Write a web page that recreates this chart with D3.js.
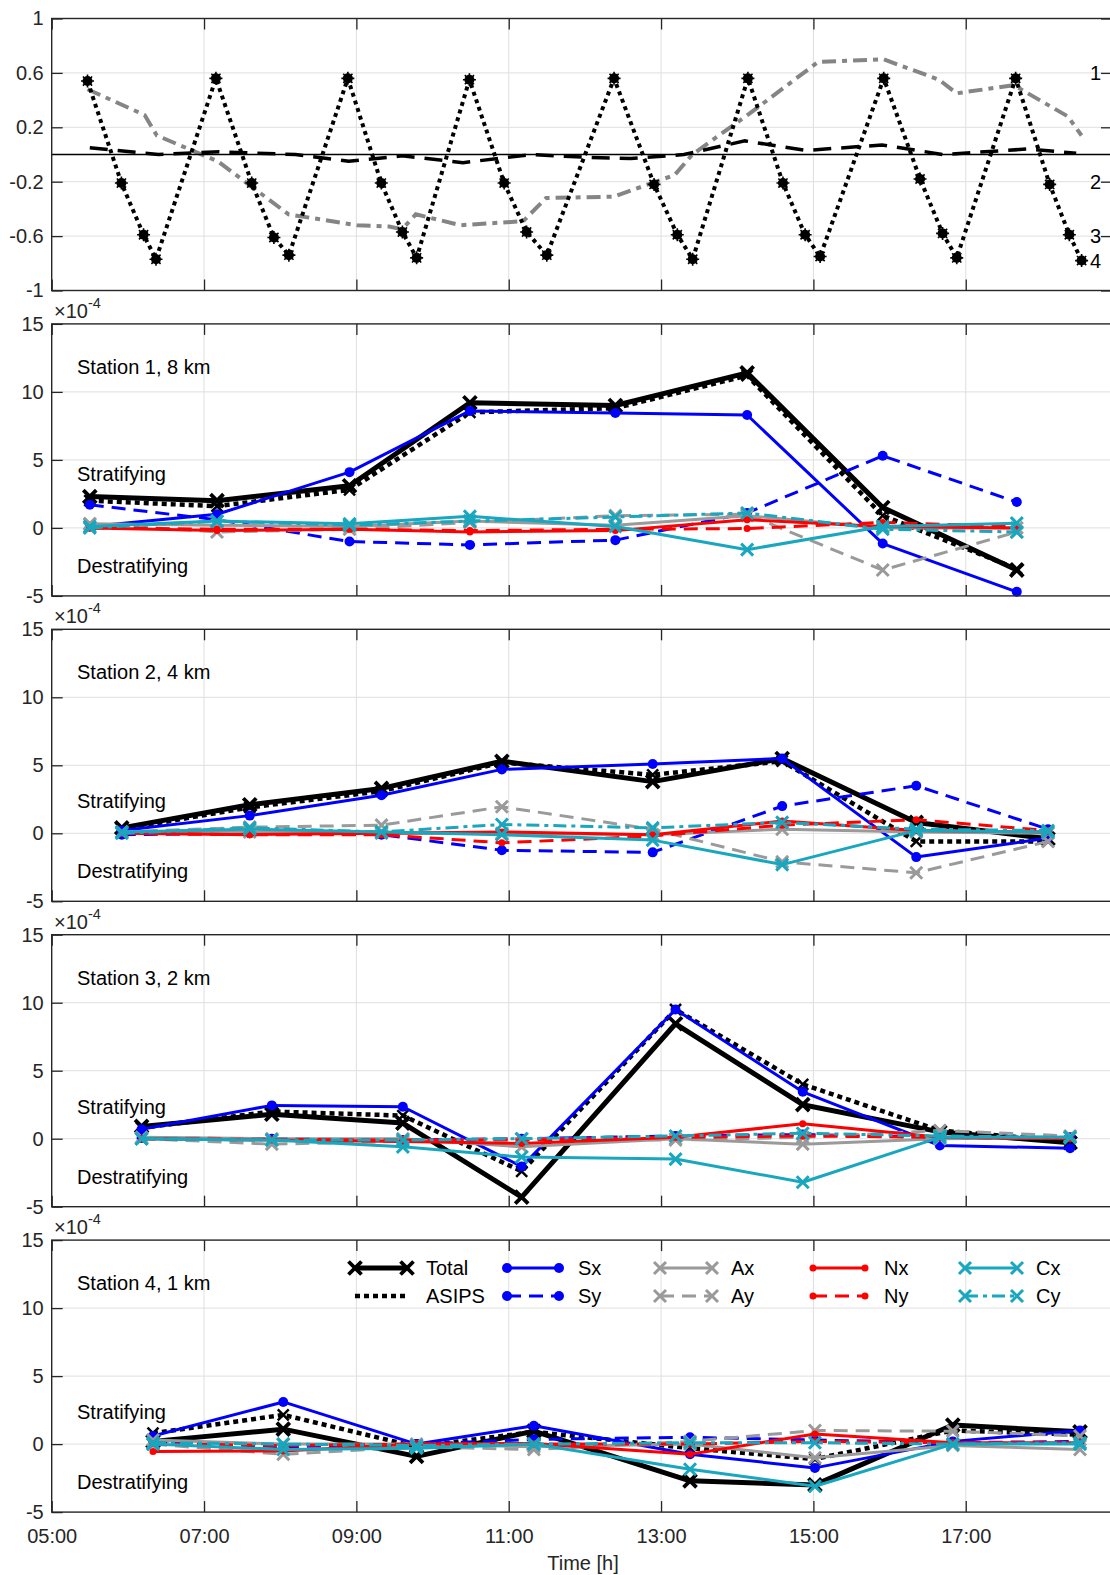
<!DOCTYPE html>
<html>
<head>
<meta charset="utf-8">
<script src="https://cdn.jsdelivr.net/npm/d3@7"></script>
<style>
  body { margin: 0; background: #fff; }
  svg { display: block; font-family: Arial, "Liberation Sans", sans-serif; }
</style>
</head>
<body>
<svg id="chart" width="1110" height="1575"></svg>
<script>
// ---- data ----
var hourTicks = [5, 7, 9, 11, 13, 15, 17];
var topTicks = [1, 0.6, 0.2, -0.2, -0.6, -1];
var panelTicks = [15, 10, 5, 0, -5];

// top panel: tidal phase at the four stations (dotted, star markers)
var tideTime = [5.47, 5.915, 6.206, 6.369, 7.156, 7.626, 7.917, 8.114, 8.888, 9.327, 9.604, 9.791,
    10.484, 10.94, 11.235, 11.5, 12.383, 12.908, 13.213, 13.415, 14.14, 14.6, 14.891, 15.088,
    15.923, 16.4, 16.696, 16.882, 17.655, 18.102, 18.36, 18.521];
var tideLevel = [0.54, -0.21, -0.59, -0.77, 0.56, -0.21, -0.61, -0.74, 0.56, -0.21, -0.57, -0.76,
    0.55, -0.21, -0.57, -0.74, 0.56, -0.22, -0.59, -0.77, 0.56, -0.21, -0.59, -0.75,
    0.56, -0.18, -0.58, -0.76, 0.56, -0.22, -0.59, -0.78];
var stationTags = ["1", "2", "3", "4"];
var stationTagLevel = [0.6, -0.2, -0.6, -0.78];

// top panel: gray dash-dot curve
var dashDotTime = [5.47, 6.22, 6.38, 7.18, 8.11, 9.01, 9.43, 9.6, 9.78, 10.37, 11.19, 11.49, 12.38,
    13.18, 13.41, 14.16, 15.06, 15.92, 16.65, 16.88, 17.63, 18.34, 18.52];
var dashDotValue = [0.48, 0.29, 0.14, -0.05, -0.44, -0.52, -0.53, -0.55, -0.44, -0.52, -0.49, -0.32, -0.31,
    -0.15, 0.0, 0.3, 0.68, 0.7, 0.55, 0.45, 0.51, 0.28, 0.14];

// top panel: black dashed curve
var dashedTime = [5.5, 6.4, 7.2, 8.2, 8.9, 9.6, 10.4, 11.3, 12.0, 12.6, 13.3, 14.1, 14.9, 15.9, 16.7, 17.8, 18.45];
var dashedValue = [0.05, 0.0, 0.02, 0.0, -0.05, -0.01, -0.06, 0.0, -0.02, -0.03, 0.0, 0.1, 0.03, 0.07, 0.0, 0.04, 0.01];

var seriesNames = ["Total", "ASIPS", "Sx", "Sy", "Ax", "Ay", "Nx", "Ny", "Cx", "Cy"];
var stationLabels = ["Station 1, 8 km", "Station 2, 4 km", "Station 3, 2 km", "Station 4, 1 km"];

var station1Time = [5.50, 7.17, 8.91, 10.49, 12.40, 14.13, 15.91, 17.67];
var station2Time = [5.92, 7.60, 9.33, 10.91, 12.89, 14.59, 16.35, 18.08];
var station3Time = [6.18, 7.89, 9.61, 11.17, 13.19, 14.86, 16.66, 18.37];
var station4Time = [6.33, 8.04, 9.79, 11.33, 13.38, 15.02, 16.83, 18.50];

// rows follow seriesNames, values in units of 1e-4
var station1 = [
    [2.3, 2.0, 3.1, 9.2, 9.0, 11.4, 1.5, -3.1],
    [2.0, 1.6, 2.8, 8.5, 8.8, 11.2, 0.9, -3.0],
    [0.1, 1.0, 4.1, 8.6, 8.45, 8.3, -1.15, -4.7],
    [1.7, 0.6, -1.0, -1.25, -0.9, 1.1, 5.3, 1.9],
    [0.3, 0.2, 0.1, 0.5, 0.2, 0.9, 0.0, 0.0],
    [0.3, -0.3, -0.1, 0.4, 0.9, 1.0, -3.1, -0.3],
    [0.0, -0.2, -0.1, -0.3, -0.2, 0.6, 0.1, 0.0],
    [0.0, -0.1, -0.1, -0.2, -0.1, -0.05, 0.4, 0.1],
    [0.1, 0.5, 0.3, 0.85, 0.1, -1.6, 0.1, 0.35],
    [0.0, 0.5, 0.2, 0.5, 0.8, 1.1, -0.1, -0.3]
];
var station2 = [
    [0.4, 2.1, 3.3, 5.3, 3.8, 5.5, 0.8, -0.4],
    [0.3, 1.9, 3.1, 5.2, 4.3, 5.3, -0.6, -0.6],
    [0.2, 1.3, 2.8, 4.7, 5.1, 5.5, -1.75, -0.35],
    [-0.1, 0.0, -0.1, -1.25, -1.4, 2.0, 3.5, 0.3],
    [0.1, 0.1, 0.0, 0.0, -0.1, 0.3, 0.1, 0.0],
    [0.1, 0.45, 0.6, 1.95, 0.3, -2.1, -2.9, -0.6],
    [0.0, -0.1, 0.0, 0.1, -0.1, 0.9, 0.2, 0.1],
    [0.0, -0.1, -0.1, -0.7, -0.2, 0.6, 1.0, 0.2],
    [0.1, 0.3, 0.1, -0.1, -0.5, -2.3, 0.2, 0.1],
    [0.0, 0.4, 0.1, 0.65, 0.4, 0.8, 0.3, 0.2]
];
var station3 = [
    [0.9, 1.8, 1.15, -4.3, 8.45, 2.5, 0.5, -0.3],
    [0.8, 2.0, 1.7, -2.4, 9.5, 4.0, 0.6, -0.2],
    [0.7, 2.45, 2.35, -2.05, 9.5, 3.45, -0.5, -0.7],
    [0.05, 0.0, -0.1, 0.0, 0.2, 0.3, 0.1, 0.1],
    [0.1, 0.0, 0.0, -0.6, 0.0, -0.4, 0.0, 0.1],
    [0.0, -0.4, -0.2, 0.0, -0.1, 0.1, 0.6, 0.2],
    [0.0, -0.1, -0.2, -0.35, 0.1, 1.1, 0.1, 0.0],
    [0.0, -0.05, -0.1, -0.1, 0.1, 0.2, 0.1, 0.0],
    [0.0, -0.1, -0.6, -1.35, -1.5, -3.2, 0.1, 0.1],
    [0.0, -0.1, -0.1, 0.0, 0.2, 0.4, 0.2, 0.1]
];
var station4 = [
    [0.2, 1.1, -0.9, 0.95, -2.7, -3.0, 1.4, 0.9],
    [0.8, 2.15, -0.2, 0.9, -0.3, -1.1, 1.0, 0.7],
    [0.6, 3.1, 0.0, 1.35, -0.75, -1.75, 0.2, 1.0],
    [0.2, -0.2, 0.0, 0.35, 0.5, 0.3, 0.1, 0.2],
    [0.3, 0.0, 0.0, -0.2, 0.0, -1.0, -0.1, -0.4],
    [0.0, -0.75, -0.2, -0.4, 0.2, 1.0, 0.95, 0.6],
    [-0.55, -0.5, 0.0, 0.05, -0.75, 0.75, 0.1, 0.1],
    [0.0, -0.1, 0.0, 0.0, 0.0, 0.2, 0.1, 0.1],
    [0.0, -0.4, -0.3, 0.0, -1.85, -3.1, 0.0, 0.0],
    [0.1, 0.0, -0.1, 0.0, 0.1, 0.1, 0.0, 0.1]
];

// ---- layout / style ----
var left = 51.7, right = 1112;
var panelTop = [18.5, 323.9, 629.3, 934.7, 1240.1];
var panelH = 272;
var axisColor = "#262626", gridColor = "#dfdfdf";
var cyan = "#18a7be", gray = "#9a9a9a";
var tickFont = 20, textFont = 20;

var styles = {
    Total: {color: "#000", w: 5, dash: null, marker: "x", ms: 6.5, mw: 3.8},
    ASIPS: {color: "#000", w: 4.5, dash: "5,4", marker: "x", ms: 5.5, mw: 2.5},
    Sx: {color: "#0000ff", w: 3, dash: null, marker: "o", ms: 5},
    Sy: {color: "#0000ff", w: 3, dash: "14,8", marker: "o", ms: 5},
    Ax: {color: gray, w: 3, dash: null, marker: "x", ms: 6, mw: 3},
    Ay: {color: gray, w: 3, dash: "14,8", marker: "x", ms: 6, mw: 3},
    Nx: {color: "#ff0000", w: 3, dash: null, marker: "o", ms: 3.5},
    Ny: {color: "#ff0000", w: 3, dash: "14,8", marker: "o", ms: 3.5},
    Cx: {color: cyan, w: 3, dash: null, marker: "x", ms: 6, mw: 3},
    Cy: {color: cyan, w: 3, dash: "13,5,4,5", marker: "x", ms: 6, mw: 3}
};

var x = d3.scaleLinear().domain([5, 18.92]).range([left, right]);
var svg = d3.select("#chart");

function hourLabel(h) {
    return d3.format("02d")(h) + ":00";
}

function drawGrid(g, y, yTicks) {
    g.append("g").selectAll("line")
            .data(hourTicks.slice(1))
            .join("line")
            .attr("x1", function (d) { return x(d); })
            .attr("x2", function (d) { return x(d); })
            .attr("y1", 0).attr("y2", panelH)
            .attr("stroke", gridColor).attr("stroke-width", 1);
    g.append("g").selectAll("line")
            .data(yTicks.slice(1, -1))
            .join("line")
            .attr("x1", left).attr("x2", right)
            .attr("y1", function (d) { return y(d); })
            .attr("y2", function (d) { return y(d); })
            .attr("stroke", gridColor).attr("stroke-width", 1);
}

function drawAxes(g, y, yTicks, withLabels) {
    var axes = [];
    axes.push(g.append("g").attr("transform", "translate(" + left + ",0)")
            .call(d3.axisLeft(y).tickValues(yTicks).tickSize(-11).tickPadding(8)
                    .tickFormat(function (d) { return String(d); })));
    axes.push(g.append("g").attr("transform", "translate(0," + panelH + ")")
            .call(d3.axisBottom(x).tickValues(hourTicks).tickSize(-11).tickPadding(17)
                    .tickFormat(withLabels ? hourLabel : "")));
    axes.push(g.append("g")
            .call(d3.axisTop(x).tickValues(hourTicks).tickSize(-11).tickFormat("")));
    axes.forEach(function (a) {
        a.attr("font-family", null).attr("font-size", tickFont);
        a.select(".domain").remove();
        a.selectAll(".tick line").attr("stroke", axisColor).attr("stroke-width", 1.3);
        a.selectAll(".tick text").attr("fill", axisColor);
    });
    g.append("rect")
            .attr("x", left).attr("y", 0)
            .attr("width", right - left).attr("height", panelH)
            .attr("fill", "none").attr("stroke", axisColor).attr("stroke-width", 1.4);
}

function markerPath(s) {
    return "M" + (-s) + "," + (-s) + "L" + s + "," + s + "M" + (-s) + "," + s + "L" + s + "," + (-s);
}

function drawMarker(sel, st) {
    if (st.marker === "o") {
        sel.append("circle").attr("r", st.ms).attr("fill", st.color);
    } else {
        sel.append("path").attr("d", markerPath(st.ms))
                .attr("stroke", st.color).attr("stroke-width", st.mw).attr("fill", "none");
    }
}

// ---- top panel ----
(function () {
    var g = svg.append("g").attr("transform", "translate(0," + panelTop[0] + ")");
    var y = d3.scaleLinear().domain([-1, 1]).range([panelH, 0]);
    drawGrid(g, y, topTicks);

    var line = d3.line()
            .x(function (d) { return x(d[0]); })
            .y(function (d) { return y(d[1]); });

    g.append("path")
            .attr("d", line(d3.zip(dashDotTime, dashDotValue)))
            .attr("fill", "none").attr("stroke", "#858585").attr("stroke-width", 4)
            .attr("stroke-dasharray", "14,6,5,6");

    g.append("path")
            .attr("d", line(d3.zip(dashedTime, dashedValue)))
            .attr("fill", "none").attr("stroke", "#000").attr("stroke-width", 3.5)
            .attr("stroke-dasharray", "18,10");

    g.append("line")
            .attr("x1", left).attr("x2", right)
            .attr("y1", y(0)).attr("y2", y(0))
            .attr("stroke", "#000").attr("stroke-width", 1.3);

    var tide = d3.zip(tideTime, tideLevel);
    g.append("path")
            .attr("d", line(tide))
            .attr("fill", "none").attr("stroke", "#000").attr("stroke-width", 4)
            .attr("stroke-dasharray", "4,4");

    var stars = g.append("g").selectAll("g")
            .data(tide)
            .join("g")
            .attr("transform", function (d) { return "translate(" + x(d[0]) + "," + y(d[1]) + ")"; });
    stars.append("circle").attr("r", 5).attr("fill", "#000");
    stars.append("path")
            .attr("d", "M-6.5,0L6.5,0M0,-6.5L0,6.5M-4.6,-4.6L4.6,4.6M-4.6,4.6L4.6,-4.6")
            .attr("stroke", "#000").attr("stroke-width", 1.6);

    g.append("g").selectAll("text")
            .data(stationTags)
            .join("text")
            .attr("x", 1090)
            .attr("y", function (d, i) { return y(stationTagLevel[i]); })
            .attr("dy", "0.35em")
            .attr("font-size", tickFont)
            .attr("fill", "#000")
            .text(function (d) { return d; });

    drawAxes(g, y, topTicks, false);
    var rightAxis = g.append("g").attr("transform", "translate(" + right + ",0)")
            .call(d3.axisRight(y).tickValues(topTicks).tickSize(-11).tickFormat(""));
    rightAxis.select(".domain").remove();
    rightAxis.selectAll(".tick line").attr("stroke", axisColor).attr("stroke-width", 1.3);
})();

// ---- station panels ----
var stationTimes = [station1Time, station2Time, station3Time, station4Time];
var stationValues = [station1, station2, station3, station4];
var stratOffset = [157, 179, 179, 179];

stationValues.forEach(function (rows, i) {
    var g = svg.append("g").attr("transform", "translate(0," + panelTop[i + 1] + ")");
    var y = d3.scaleLinear().domain([-5, 15]).range([panelH, 0]);
    var times = stationTimes[i];
    drawGrid(g, y, panelTicks);

    rows.forEach(function (vals, k) {
        var st = styles[seriesNames[k]];
        var pts = d3.zip(times, vals);
        g.append("path")
                .attr("d", d3.line()
                        .x(function (d) { return x(d[0]); })
                        .y(function (d) { return y(d[1]); })(pts))
                .attr("fill", "none")
                .attr("stroke", st.color)
                .attr("stroke-width", st.w)
                .attr("stroke-dasharray", st.dash)
                .attr("stroke-linejoin", "round");
        var m = g.append("g").selectAll("g")
                .data(pts)
                .join("g")
                .attr("transform", function (d) { return "translate(" + x(d[0]) + "," + y(d[1]) + ")"; });
        drawMarker(m, st);
    });

    g.append("text").attr("x", 77).attr("y", 50).attr("font-size", textFont).text(stationLabels[i]);
    g.append("text").attr("x", 77).attr("y", stratOffset[i]).attr("font-size", textFont).text("Stratifying");
    g.append("text").attr("x", 77).attr("y", 249).attr("font-size", textFont).text("Destratifying");

    var ex = g.append("text").attr("x", 54).attr("y", -6).attr("font-size", tickFont).attr("fill", axisColor);
    ex.append("tspan").text("\u00d710");
    ex.append("tspan").attr("font-size", 14.5).attr("dy", -10).text("-4");

    drawAxes(g, y, panelTicks, i === 3);
});

// ---- legend (inside last panel) ----
(function () {
    var legendX = [355, 507, 660, 813, 965];
    var legendY = [1268, 1296];
    var lg = svg.append("g");
    seriesNames.forEach(function (name, k) {
        var st = styles[name];
        var cx = legendX[Math.floor(k / 2)], cy = legendY[k % 2];
        var item = lg.append("g").attr("transform", "translate(" + cx + "," + cy + ")");
        item.append("line")
                .attr("x1", 0).attr("x2", 52).attr("y1", 0).attr("y2", 0)
                .attr("stroke", st.color).attr("stroke-width", st.w)
                .attr("stroke-dasharray", st.dash);
        if (name !== "ASIPS") {
            var ends = item.selectAll("g.end").data([0, 52]).join("g")
                    .attr("transform", function (d) { return "translate(" + d + ",0)"; });
            drawMarker(ends, st);
        }
        item.append("text")
                .attr("x", 71).attr("y", 0).attr("dy", "0.36em")
                .attr("font-size", textFont).attr("fill", "#000")
                .text(name);
    });
})();

svg.append("text")
        .attr("x", 583).attr("y", 1570)
        .attr("text-anchor", "middle")
        .attr("font-size", textFont)
        .attr("fill", axisColor)
        .text("Time [h]");
</script>
</body>
</html>
